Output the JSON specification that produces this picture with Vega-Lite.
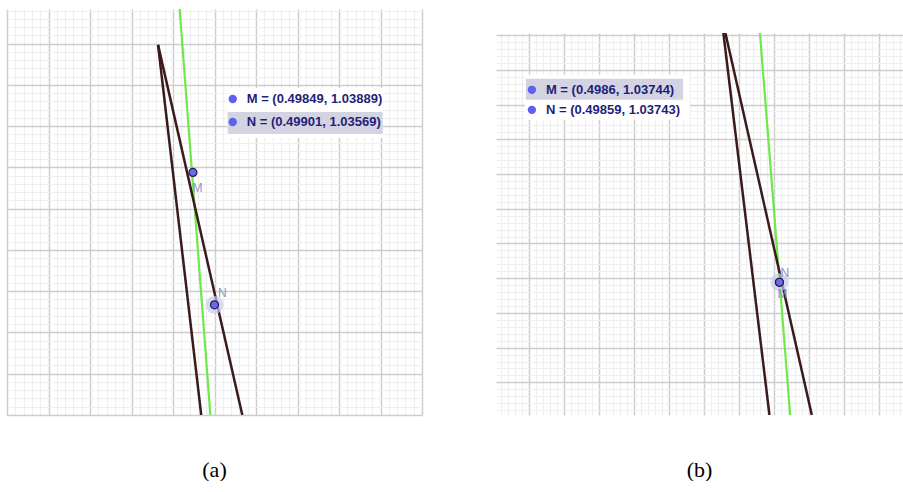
{
  "$schema": "https://vega.github.io/schema/vega-lite/v6.json",
  "padding": {"left": 7, "top": 9, "right": 0, "bottom": 0},
  "background": "white",
  "config": {
    "view": {"stroke": null},
    "axis": {"domain": false, "ticks": false, "labels": false, "grid": true}
  },
  "spacing": 74,
  "hconcat": [
    {
      "width": 415,
      "height": 406,
      "title": {"text": "(a)", "orient": "bottom", "offset": 45, "font": "Liberation Serif", "fontSize": 22, "fontWeight": "normal", "color": "#000000", "anchor": "middle", "baseline": "top"},
      "resolve": {"axis": {"x": "independent", "y": "independent"}},
      "layer": [
        {
          "data": {"values": [{"x": 5.295, "x2": 9.053, "y": 7.925, "y2": 6.714}]},
          "mark": {"type": "rect", "color": "#ffffff"},
          "encoding": {
            "x": {"field": "x", "type": "quantitative", "scale": {"domain": [0, 10], "nice": false, "zero": false}, "axis": {"title": null, "grid": true, "values": [0.2,0.4,0.6,0.8,1.2,1.4,1.6,1.8,2.2,2.4,2.6,2.8,3.2,3.4,3.6,3.8,4.2,4.4,4.6,4.8,5.2,5.4,5.6,5.8,6.2,6.4,6.6,6.8,7.2,7.4,7.6,7.8,8.2,8.4,8.6,8.8,9.2,9.4,9.6,9.8], "gridColor": "#efefef", "gridWidth": 1.2}},
            "x2": {"field": "x2"},
            "y": {"field": "y", "type": "quantitative", "scale": {"domain": [0, 9.84], "nice": false, "zero": false}, "axis": {"title": null, "grid": true, "values": [0.2,0.4,0.6,0.8,1.2,1.4,1.6,1.8,2.2,2.4,2.6,2.8,3.2,3.4,3.6,3.8,4.2,4.4,4.6,4.8,5.2,5.4,5.6,5.8,6.2,6.4,6.6,6.8,7.2,7.4,7.6,7.8,8.2,8.4,8.6,8.8,9.2,9.4,9.6,9.8], "gridColor": "#efefef", "gridWidth": 1.2}},
            "y2": {"field": "y2"}
          }
        },
        {
          "data": {"values": [{"x": 5.318, "x2": 9.053, "y": 7.344, "y2": 6.811}]},
          "mark": {"type": "rect", "color": "#d3d3e2"},
          "encoding": {
            "x": {"field": "x", "type": "quantitative", "scale": {"domain": [0, 10], "nice": false, "zero": false}, "axis": {"title": null, "grid": true, "values": [0,1,2,3,4,5,6,7,8,9,10], "gridColor": "#cdcdcd", "gridWidth": 1.5}},
            "x2": {"field": "x2"},
            "y": {"field": "y", "type": "quantitative", "scale": {"domain": [0, 9.84], "nice": false, "zero": false}, "axis": {"title": null, "grid": true, "values": [0,1,2,3,4,5,6,7,8,9], "gridColor": "#cdcdcd", "gridWidth": 1.5}},
            "y2": {"field": "y2"}
          }
        },
        {
          "data": {"values": [{"x": 4.16, "y": 9.84}, {"x": 4.90, "y": 0}]},
          "mark": {"type": "line", "strokeWidth": 2.2, "color": "#6ee84a", "clip": true},
          "encoding": {
            "x": {"field": "x", "type": "quantitative", "axis": null},
            "y": {"field": "y", "type": "quantitative", "axis": null}
          }
        },
        {
          "data": {"values": [
            {"s": "d1", "x": 3.64, "y": 8.97}, {"s": "d1", "x": 4.68, "y": 0},
            {"s": "d2", "x": 3.64, "y": 8.97}, {"s": "d2", "x": 5.67, "y": 0}
          ]},
          "mark": {"type": "line", "strokeWidth": 2.5, "color": "#3a1a1a", "clip": true},
          "encoding": {
            "x": {"field": "x", "type": "quantitative", "axis": null},
            "y": {"field": "y", "type": "quantitative", "axis": null},
            "detail": {"field": "s"}
          }
        },
        {
          "data": {"values": [
            {"t": "M = (0.49849, 1.03889)", "bx": 5.44, "tx": 5.776, "y": 7.659},
            {"t": "N = (0.49901, 1.03569)", "bx": 5.44, "tx": 5.776, "y": 7.102}
          ]},
          "layer": [
            {
              "mark": {"type": "point", "filled": true, "size": 70, "color": "#5f5ff2", "opacity": 1},
              "encoding": {
                "x": {"field": "bx", "type": "quantitative", "axis": null},
                "y": {"field": "y", "type": "quantitative", "axis": null}
              }
            },
            {
              "mark": {"type": "text", "align": "left", "baseline": "middle", "font": "Liberation Sans", "fontSize": 13, "fontWeight": "bold", "color": "#1f1f78"},
              "encoding": {
                "x": {"field": "tx", "type": "quantitative", "axis": null},
                "y": {"field": "y", "type": "quantitative", "axis": null},
                "text": {"field": "t"}
              }
            }
          ]
        },
        {
          "data": {"values": [{"x": 5.00, "y": 2.67}]},
          "mark": {"type": "point", "filled": true, "size": 320, "color": "#c9c9ef", "opacity": 0.7},
          "encoding": {
            "x": {"field": "x", "type": "quantitative", "axis": null},
            "y": {"field": "y", "type": "quantitative", "axis": null}
          }
        },
        {
          "data": {"values": [
            {"p": "M", "x": 4.48, "y": 5.88, "lx": 4.59, "ly": 5.50},
            {"p": "N", "x": 5.00, "y": 2.67, "lx": 5.19, "ly": 2.955}
          ]},
          "layer": [
            {
              "mark": {"type": "point", "filled": true, "size": 64, "fill": "#6a6af0", "stroke": "#202040", "strokeWidth": 1.2, "opacity": 1},
              "encoding": {
                "x": {"field": "x", "type": "quantitative", "axis": null},
                "y": {"field": "y", "type": "quantitative", "axis": null}
              }
            },
            {
              "mark": {"type": "text", "align": "center", "baseline": "middle", "font": "Liberation Sans", "fontSize": 12, "color": "#8f8fd0"},
              "encoding": {
                "x": {"field": "lx", "type": "quantitative", "axis": null},
                "y": {"field": "ly", "type": "quantitative", "axis": null},
                "text": {"field": "p"}
              }
            }
          ]
        }
      ]
    },
    {
      "spacing": 0,
      "vconcat": [
        {
          "width": 407,
          "height": 24,
          "data": {"values": []},
          "mark": "point"
        },
        {
          "width": 407,
          "height": 382,
          "title": {"text": "(b)", "orient": "bottom", "offset": 45, "font": "Liberation Serif", "fontSize": 22, "fontWeight": "normal", "color": "#000000", "anchor": "middle", "baseline": "top"},
          "resolve": {"axis": {"x": "independent", "y": "independent"}},
          "layer": [
            {
              "data": {"values": [{"x": 0.877, "x2": 5.605, "y": 9.856, "y2": 8.559}]},
              "mark": {"type": "rect", "color": "#ffffff"},
              "encoding": {
                "x": {"field": "x", "type": "quantitative", "scale": {"domain": [0.05, 11.7], "nice": false, "zero": false}, "axis": {"title": null, "grid": true, "values": [0.2,0.4,0.6,0.8,1.2,1.4,1.6,1.8,2.2,2.4,2.6,2.8,3.2,3.4,3.6,3.8,4.2,4.4,4.6,4.8,5.2,5.4,5.6,5.8,6.2,6.4,6.6,6.8,7.2,7.4,7.6,7.8,8.2,8.4,8.6,8.8,9.2,9.4,9.6,9.8,10.2,10.4,10.6,10.8,11.2,11.4,11.6], "gridColor": "#efefef", "gridWidth": 1.2}},
                "x2": {"field": "x2"},
                "y": {"field": "y", "type": "quantitative", "scale": {"domain": [0.06, 11.06], "nice": false, "zero": false}, "axis": {"title": null, "grid": true, "values": [0.2,0.4,0.6,0.8,1.2,1.4,1.6,1.8,2.2,2.4,2.6,2.8,3.2,3.4,3.6,3.8,4.2,4.4,4.6,4.8,5.2,5.4,5.6,5.8,6.2,6.4,6.6,6.8,7.2,7.4,7.6,7.8,8.2,8.4,8.6,8.8,9.2,9.4,9.6,9.8,10.2,10.4,10.6,10.8], "gridColor": "#efefef", "gridWidth": 1.2}},
                "y2": {"field": "y2"}
              }
            },
            {
              "data": {"values": [{"x": 0.905, "x2": 5.404, "y": 9.741, "y2": 9.135}]},
              "mark": {"type": "rect", "color": "#d3d3e2"},
              "encoding": {
                "x": {"field": "x", "type": "quantitative", "scale": {"domain": [0.05, 11.7], "nice": false, "zero": false}, "axis": {"title": null, "grid": true, "values": [1,2,3,4,5,6,7,8,9,10,11], "gridColor": "#cdcdcd", "gridWidth": 1.5}},
                "x2": {"field": "x2"},
                "y": {"field": "y", "type": "quantitative", "scale": {"domain": [0.06, 11.06], "nice": false, "zero": false}, "axis": {"title": null, "grid": true, "values": [1,2,3,4,5,6,7,8,9,10,11], "gridColor": "#cdcdcd", "gridWidth": 1.5}},
                "y2": {"field": "y2"}
              }
            },
            {
              "data": {"values": [{"x": 7.605, "y": 11.06}, {"x": 8.47, "y": 0.06}]},
              "mark": {"type": "line", "strokeWidth": 2.2, "color": "#6ee84a", "clip": true},
              "encoding": {
                "x": {"field": "x", "type": "quantitative", "axis": null},
                "y": {"field": "y", "type": "quantitative", "axis": null}
              }
            },
            {
              "data": {"values": [
                {"s": "d1", "x": 6.559, "y": 11.06}, {"s": "d1", "x": 7.877, "y": 0.06},
                {"s": "d2", "x": 6.616, "y": 11.06}, {"s": "d2", "x": 9.09, "y": 0.06}
              ]},
              "mark": {"type": "line", "strokeWidth": 2.5, "color": "#3a1a1a", "clip": true},
              "encoding": {
                "x": {"field": "x", "type": "quantitative", "axis": null},
                "y": {"field": "y", "type": "quantitative", "axis": null},
                "detail": {"field": "s"}
              }
            },
            {
              "data": {"values": [
                {"t": "M = (0.4986, 1.03744)", "bx": 1.077, "tx": 1.479, "y": 9.424},
                {"t": "N = (0.49859, 1.03743)", "bx": 1.077, "tx": 1.479, "y": 8.847}
              ]},
              "layer": [
                {
                  "mark": {"type": "point", "filled": true, "size": 70, "color": "#5f5ff2", "opacity": 1},
                  "encoding": {
                    "x": {"field": "bx", "type": "quantitative", "axis": null},
                    "y": {"field": "y", "type": "quantitative", "axis": null}
                  }
                },
                {
                  "mark": {"type": "text", "align": "left", "baseline": "middle", "font": "Liberation Sans", "fontSize": 13, "fontWeight": "bold", "color": "#1f1f78"},
                  "encoding": {
                    "x": {"field": "tx", "type": "quantitative", "axis": null},
                    "y": {"field": "y", "type": "quantitative", "axis": null},
                    "text": {"field": "t"}
                  }
                }
              ]
            },
            {
              "data": {"values": [{"x": 8.163, "y": 3.882}]},
              "mark": {"type": "point", "filled": true, "size": 320, "color": "#c9c9ef", "opacity": 0.7},
              "encoding": {
                "x": {"field": "x", "type": "quantitative", "axis": null},
                "y": {"field": "y", "type": "quantitative", "axis": null}
              }
            },
            {
              "data": {"values": [
                {"p": "M", "x": 8.163, "y": 3.882, "lx": 8.249, "ly": 3.545},
                {"p": "N", "x": 8.163, "y": 3.882, "lx": 8.32, "ly": 4.141}
              ]},
              "layer": [
                {
                  "mark": {"type": "point", "filled": true, "size": 64, "fill": "#6a6af0", "stroke": "#202040", "strokeWidth": 1.2, "opacity": 1},
                  "encoding": {
                    "x": {"field": "x", "type": "quantitative", "axis": null},
                    "y": {"field": "y", "type": "quantitative", "axis": null}
                  }
                },
                {
                  "mark": {"type": "text", "align": "center", "baseline": "middle", "font": "Liberation Sans", "fontSize": 12, "color": "#8f8fd0"},
                  "encoding": {
                    "x": {"field": "lx", "type": "quantitative", "axis": null},
                    "y": {"field": "ly", "type": "quantitative", "axis": null},
                    "text": {"field": "p"}
                  }
                }
              ]
            }
          ]
        }
      ]
    }
  ]
}
